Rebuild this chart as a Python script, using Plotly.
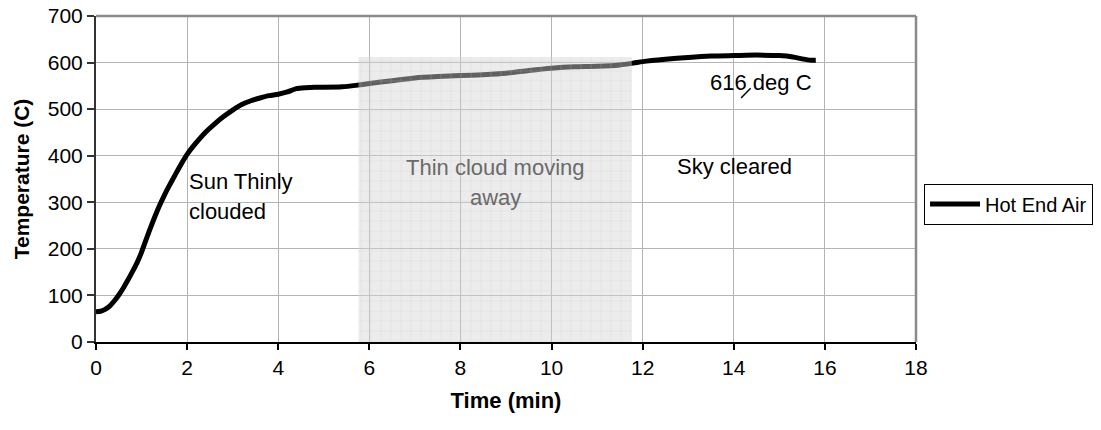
import plotly.graph_objects as go

# Data
time_min = [0.0, 0.1, 0.2, 0.3, 0.4, 0.5, 0.6, 0.7, 0.8, 0.9, 1.0, 1.1, 1.2, 1.3, 1.4,
            1.5, 1.6, 1.7, 1.8, 1.9, 2.0, 2.2, 2.4, 2.6, 2.8, 3.0, 3.2, 3.4, 3.6, 3.8,
            4.0, 4.2, 4.4, 4.6, 4.8, 5.0, 5.4, 5.7, 6.0, 6.5, 7.0, 7.5, 8.0, 8.5, 9.0,
            9.5, 10.0, 10.5, 11.0, 11.5, 11.8, 12.0, 12.5, 13.0, 13.5, 14.0, 14.5, 15.0,
            15.3, 15.5, 15.7, 15.8]
hot_end_air = [65, 66, 70, 77, 88, 101, 116, 133, 151, 170, 193, 220, 246, 271, 294,
               315, 334, 352, 370, 387, 403, 428, 450, 468, 484, 498, 510, 518, 524, 529,
               532, 537, 544, 546, 547, 547, 548, 551, 555, 561, 567, 570, 572, 574, 577,
               583, 588, 591, 592, 595, 599, 602, 607, 611, 614, 615, 616, 615,
               612, 608, 605, 605]

cloud_band_x = [5.76, 11.76]
cloud_band_y = [0, 612]

x_ticks = [0, 2, 4, 6, 8, 10, 12, 14, 16, 18]
y_ticks = [0, 100, 200, 300, 400, 500, 600, 700]

FONT = "Liberation Sans, Arial, sans-serif"

fig = go.Figure()

fig.add_trace(go.Scatter(
    x=time_min, y=hot_end_air, mode="lines", name="Hot End Air",
    line=dict(color="black", width=5, shape="spline", smoothing=0.6),
))

# semi-transparent patterned band drawn over the line
bx0, bx1 = cloud_band_x
by0, by1 = cloud_band_y
fig.add_trace(go.Scatter(
    x=[bx0, bx1, bx1, bx0, bx0], y=[by0, by0, by1, by1, by0],
    mode="lines", fill="toself", line=dict(width=0),
    fillcolor="rgba(213,213,213,0.45)",
    fillpattern=dict(shape="+", size=10, solidity=0.12,
                     fgcolor="rgb(200,200,200)", fgopacity=0.35,
                     bgcolor="rgba(213,213,213,0.45)"),
    showlegend=False, hoverinfo="skip",
))

annots = [
    dict(x=2.0, y=344, text="Sun Thinly", xanchor="left", yanchor="middle",
         font=dict(color="black")),
    dict(x=2.0, y=280, text="clouded", xanchor="left", yanchor="middle",
         font=dict(color="black")),
    dict(x=8.76, y=374, text="Thin cloud moving", xanchor="center", yanchor="middle",
         font=dict(color="#6a6a6a")),
    dict(x=8.76, y=310, text="away", xanchor="center", yanchor="middle",
         font=dict(color="#6a6a6a")),
    dict(x=12.72, y=376, text="Sky cleared", xanchor="left", yanchor="middle",
         font=dict(color="black")),
    dict(x=14.6, y=558, text="616 deg C", xanchor="center", yanchor="middle",
         font=dict(color="black")),
]
for a in annots:
    a.update(showarrow=False, xref="x", yref="y")
    a["font"].update(family=FONT, size=22)
    fig.add_annotation(**a)

# leader line for the 616 annotation
fig.add_shape(type="line", xref="x", yref="y", x0=14.16, y0=524, x1=14.37, y1=545,
              line=dict(color="black", width=1.5))

# top and right border in gray
fig.add_shape(type="line", xref="paper", yref="paper", x0=0, y0=1, x1=1, y1=1,
              line=dict(color="#8a8a8a", width=2.5))
fig.add_shape(type="line", xref="paper", yref="paper", x0=1, y0=0, x1=1, y1=1,
              line=dict(color="#8a8a8a", width=2.5))

fig.update_layout(
    width=1101, height=430,
    margin=dict(l=96, r=185, t=16, b=88, autoexpand=False),
    paper_bgcolor="white", plot_bgcolor="white",
    font=dict(family=FONT, size=21, color="black"),
    showlegend=True,
    legend=dict(x=1.0098, y=0.423, xanchor="left", yanchor="middle",
                bordercolor="black", borderwidth=1, bgcolor="white",
                font=dict(family=FONT, size=20), itemwidth=50,
                tracegroupgap=0),
    xaxis=dict(range=[0, 18], tickvals=x_ticks, ticktext=[str(v) for v in x_ticks],
               automargin=False,
               showgrid=True, gridcolor="#b4b4b4", gridwidth=1,
               showline=True, linecolor="black", linewidth=2,
               ticks="outside", ticklen=6, tickcolor="black", tickwidth=1.5,
               tickfont=dict(size=21),
               zeroline=False,
               title=dict(text="<b>Time (min)</b>", font=dict(size=22), standoff=14)),
    yaxis=dict(range=[0, 700], tickvals=y_ticks, ticktext=[str(v) for v in y_ticks],
               automargin=False,
               showgrid=True, gridcolor="#b4b4b4", gridwidth=1,
               showline=True, linecolor="#333333", linewidth=2,
               ticks="outside", ticklen=7, tickcolor="#333333", tickwidth=1.5,
               tickfont=dict(size=21),
               zeroline=False,
               title=dict(text="<b>Temperature (C)</b>", font=dict(size=21), standoff=12)),
)

fig.write_html("out.html")
